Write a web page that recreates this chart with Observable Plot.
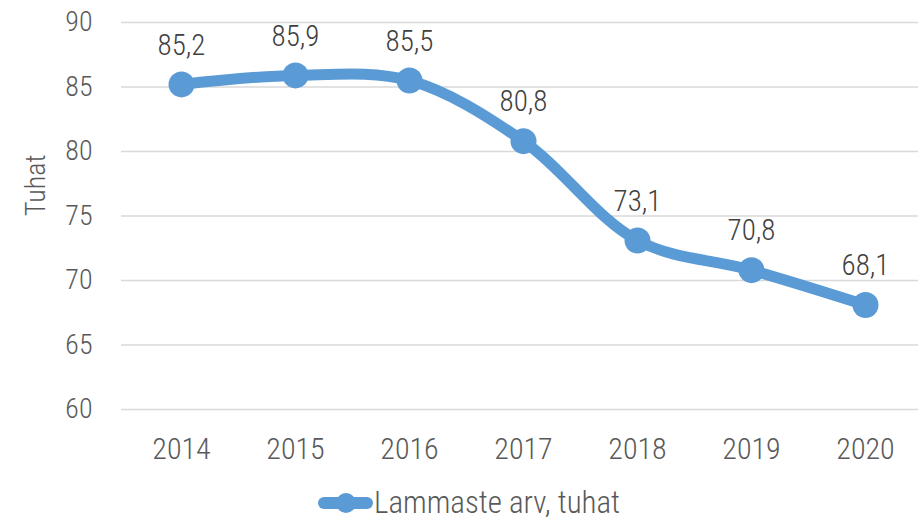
<!DOCTYPE html>
<html><head><meta charset="utf-8">
<script src="https://cdn.jsdelivr.net/npm/d3@7"></script>
<script src="https://cdn.jsdelivr.net/npm/@observablehq/plot@0.6"></script>
<style>
html,body{margin:0;padding:0;background:#fff;}
body{width:918px;height:520px;overflow:hidden;position:relative;font-family:"Roboto Condensed","Liberation Sans Narrow","DejaVu Sans Condensed",Roboto,sans-serif;font-weight:300;}
#legend{position:absolute;left:0;top:486px;width:918px;height:34px;}
#legend .item{position:absolute;left:316px;top:0;display:flex;align-items:center;font-size:31px;line-height:34px;color:#595959;}
#legend svg{display:block;}
</style></head>
<body>
<div id="chart"></div>
<div id="legend"><div class="item"><svg width="58" height="34"><line x1="8" y1="17" x2="51" y2="17" stroke="#5B9BD5" stroke-width="12" stroke-linecap="round"/><circle cx="30" cy="17" r="10" fill="#5B9BD5"/></svg><span>Lammaste arv, tuhat</span></div></div>
<script>
const years = ["2014","2015","2016","2017","2018","2019","2020"];
const values = [85.2, 85.9, 85.5, 80.8, 73.1, 70.8, 68.1];
const yTicks = [60, 65, 70, 75, 80, 85, 90];
const yTitle = "Tuhat";
const color = "#5B9BD5";
const data = years.map((y, i) => ({year: y, value: values[i]}));
const fmt = v => v.toFixed(1).replace(".", ",");
const font = '"Roboto Condensed","Liberation Sans Narrow","DejaVu Sans Condensed",Roboto,sans-serif';

const chart = Plot.plot({
  width: 918,
  height: 470,
  marginLeft: 121,
  marginRight: 0,
  marginTop: 22,
  marginBottom: 61,
  style: {fontFamily: font, fontSize: "28px", fontWeight: 300, color: "#595959", background: "#fff", overflow: "visible"},
  x: {type: "point", domain: years, range: [121, 925], padding: 0.5, label: null},
  y: {domain: [60, 90], label: null},
  marks: [
    Plot.ruleY(yTicks, {stroke: "#d9d9d9", strokeWidth: 1.5}),
    Plot.axisX({tickSize: 0, tickPadding: 28, fontSize: 30, fill: "#595959"}),
    Plot.axisY({ticks: yTicks, tickSize: 0, tickPadding: 29, fontSize: 28, fill: "#595959", label: null}),
    Plot.text([yTitle], {frameAnchor: "left", dx: -85, rotate: -90, fontSize: 28, fill: "#595959"}),
    Plot.line(data, {x: "year", y: "value", stroke: color, strokeWidth: 11, curve: "catmull-rom", strokeLinecap: "round"}),
    Plot.dot(data, {x: "year", y: "value", r: 13, fill: color}),
    Plot.text(data, {x: "year", y: "value", text: d => fmt(d.value), dy: -39, fontSize: 29, fill: "#404040"})
  ]
});
document.getElementById("chart").appendChild(chart);
</script>
</body></html>
